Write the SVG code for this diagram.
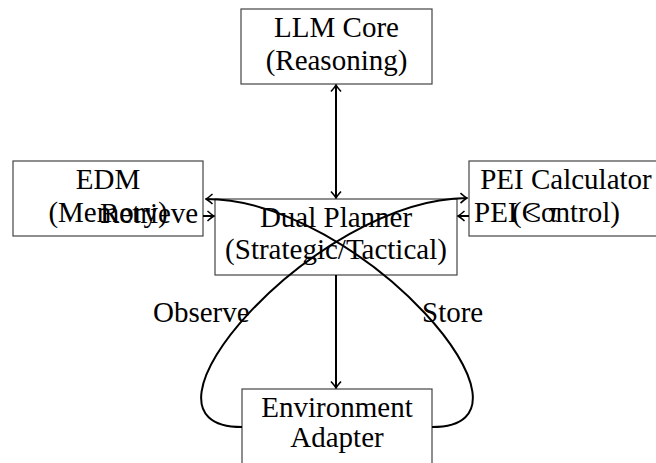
<svg xmlns="http://www.w3.org/2000/svg" width="656" height="463" viewBox="0 0 656 463">
<defs>
<style>
.box{fill:#fff;stroke:#444;stroke-width:1.2}
.t{font-family:"Liberation Serif","DejaVu Serif",serif;font-size:29px;fill:#000;text-anchor:middle}
.lbl{font-family:"Liberation Serif","DejaVu Serif",serif;font-size:29px;fill:#000}
.c{fill:none;stroke:#000;stroke-width:2}
</style>
<marker id="ah" viewBox="-8 -6 9 12" refX="0" refY="0" markerWidth="9" markerHeight="12" markerUnits="userSpaceOnUse" orient="auto-start-reverse">
<path d="M-6.5,-5 Q-2,-1 0,0 Q-2,1 -6.5,5" fill="none" stroke="#000" stroke-width="1.6"/>
</marker>
</defs>
<rect width="656" height="463" fill="#fff"/>
<g id="llm">
<rect class="box" x="241" y="9" width="191" height="75"/>
<text class="t" x="336.5" y="37">LLM Core</text>
<text class="t" x="336.5" y="70">(Reasoning)</text>
</g>
<g id="edm">
<rect class="box" x="13" y="161" width="190" height="75"/>
<text class="t" x="108" y="189">EDM</text>
<text class="t" x="108" y="222">(Memory)</text>
</g>
<g id="planner">
<rect class="box" x="215" y="199" width="242" height="76"/>
<text class="t" x="336" y="227">Dual Planner</text>
<text class="t" x="336" y="259">(Strategic/Tactical)</text>
</g>
<g id="pei">
<rect class="box" x="469" y="161" width="194" height="75"/>
<text class="t" x="566" y="189">PEI Calculator</text>
<text class="t" x="566" y="222">(Control)</text>
</g>
<g id="env">
<rect class="box" x="242" y="389" width="190" height="80"/>
<text class="t" x="337" y="417">Environment</text>
<text class="t" x="337" y="447">Adapter</text>
</g>
<g id="connectors">
<line class="c" x1="336" y1="85" x2="336" y2="198" marker-start="url(#ah)" marker-end="url(#ah)"/>
<line class="c" x1="336" y1="275" x2="336" y2="388" marker-end="url(#ah)"/>
<line class="c" x1="203" y1="216" x2="214" y2="216" marker-end="url(#ah)"/>
<line class="c" x1="469" y1="216" x2="458" y2="216" marker-end="url(#ah)"/>
<path class="c" d="M432,427 C560,427 360,199 206,199" marker-end="url(#ah)"/>
<path class="c" d="M242,427 C114,427 314,199 467,198" marker-end="url(#ah)"/>
</g>
<g id="labels">
<text class="lbl" x="100" y="223">Retrieve</text>
<text class="lbl" x="474" y="222">PEI &lt; <tspan font-style="italic">τ</tspan></text>
<text class="lbl" x="153" y="322">Observe</text>
<text class="lbl" x="422" y="322">Store</text>
</g>
</svg>
